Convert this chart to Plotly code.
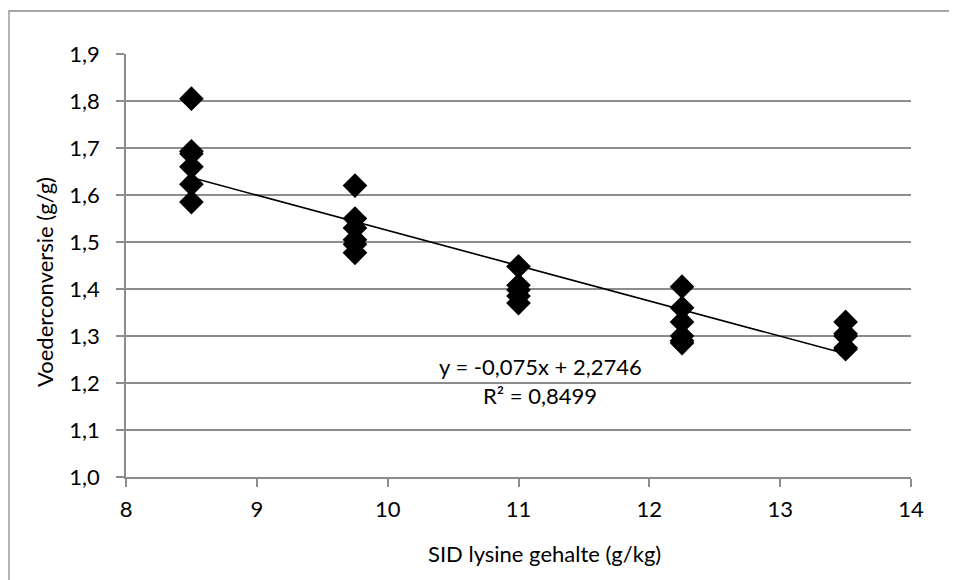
import numpy as np
import plotly.graph_objects as go

# Data
x_levels = [8.5, 9.75, 11.0, 12.25, 13.5]
y_85 = [1.805, 1.693, 1.688, 1.660, 1.623, 1.585]
y_975 = [1.620, 1.550, 1.530, 1.505, 1.495, 1.477]
y_11 = [1.448, 1.408, 1.398, 1.385, 1.370]
y_1225 = [1.405, 1.360, 1.330, 1.300, 1.290, 1.285]
y_135 = [1.330, 1.305, 1.300, 1.275, 1.272]
trend_slope = -0.075
trend_intercept = 2.2746
r_squared = 0.8499
x_ticks = [8, 9, 10, 11, 12, 13, 14]
y_ticks = [1.0, 1.1, 1.2, 1.3, 1.4, 1.5, 1.6, 1.7, 1.8, 1.9]
x_title = "SID lysine gehalte (g/kg)"
y_title = "Voederconversie (g/g)"

groups = [y_85, y_975, y_11, y_1225, y_135]
xs, ys = [], []
for xv, g in zip(x_levels, groups):
    xs += [xv] * len(g)
    ys += g

font_family = "Lato, Open Sans, Liberation Sans"
FS = 22
grey = "#8c8c8c"

fig = go.Figure()
fig.add_trace(go.Scatter(
    x=xs, y=ys, mode="markers",
    marker=dict(symbol="diamond", size=19, color="black"),
    showlegend=False, hoverinfo="x+y"))

tx = [min(x_levels), max(x_levels)]
ty = [trend_slope * v + trend_intercept for v in tx]
fig.add_trace(go.Scatter(x=tx, y=ty, mode="lines",
                         line=dict(color="black", width=1.6),
                         showlegend=False, hoverinfo="skip"))

fmt = lambda v: str(v).replace(".", ",")
fig.add_annotation(x=11.165, y=1.236, text=f"y = {fmt(trend_slope)}x + {fmt(trend_intercept)}",
                   showarrow=False, xanchor="center", yanchor="middle",
                   font=dict(size=FS, color="black", family=font_family))
fig.add_annotation(x=11.165, y=1.174, text=f"R² = {fmt(r_squared)}",
                   showarrow=False, xanchor="center", yanchor="middle",
                   font=dict(size=FS, color="black", family=font_family))

# axis titles (placed as in the reference)
fig.add_annotation(xref="paper", yref="paper", x=0.5325, y=-0.1797, text=x_title,
                   xanchor="center", yanchor="middle",
                   showarrow=False, font=dict(size=FS, color="black", family=font_family))
fig.add_annotation(xref="paper", yref="paper", x=-0.1032, y=0.461, text=y_title,
                   xanchor="center", yanchor="middle",
                   textangle=-90, showarrow=False,
                   font=dict(size=FS, color="black", family=font_family))

# outer chart border (left and top edges visible)
fig.add_shape(type="rect", xref="paper", yref="paper",
              x0=-117 / 785, x1=1.2, y0=-0.5, y1=(423 + 43) / 423,
              line=dict(color=grey, width=1.3), layer="below")

# The page body adds an 8px offset; figure is sized to fit the 957x580 window.
fig.update_layout(
    width=949, height=572,
    margin=dict(l=118, r=46, t=46, b=103),
    paper_bgcolor="white", plot_bgcolor="white",
    separators=", ",
    font=dict(family=font_family, size=FS, color="black"),
    xaxis=dict(range=[8, 14], tickvals=x_ticks, showgrid=False,
               showline=True, linecolor=grey, linewidth=1.6,
               ticks="outside", ticklen=8, tickcolor=grey, tickwidth=1.6,
               ticklabelstandoff=4, zeroline=False),
    yaxis=dict(range=[1.0, 1.9], tickvals=y_ticks, tickformat=".1f",
               showgrid=True, gridcolor=grey, gridwidth=1.6,
               showline=True, linecolor=grey, linewidth=1.6,
               ticks="outside", ticklen=8, tickcolor=grey, tickwidth=1.6,
               ticklabelstandoff=12, zeroline=False),
)

fig.write_html("out.html")
